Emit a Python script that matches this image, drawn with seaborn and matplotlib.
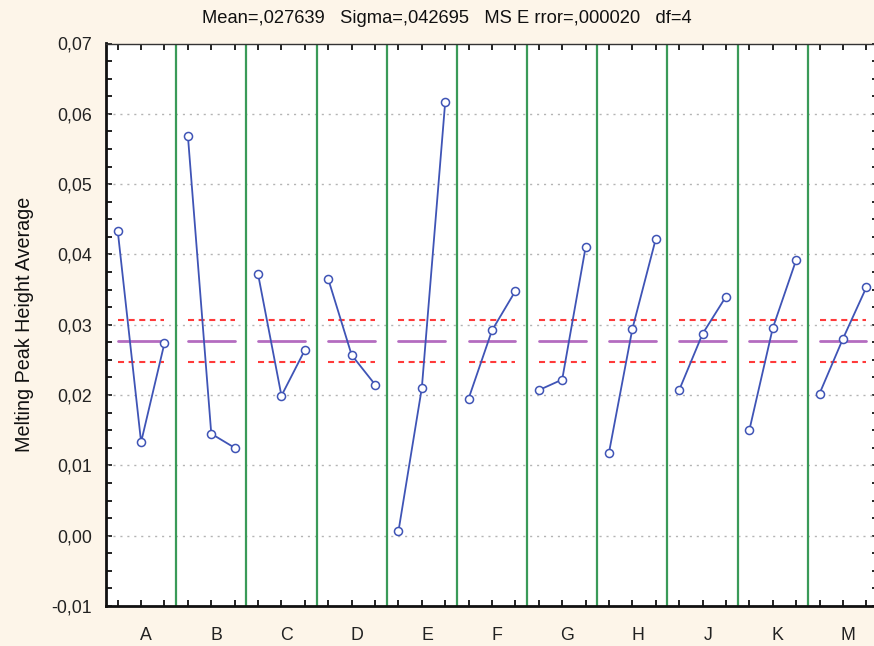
import numpy as np
import pandas as pd
import seaborn as sns
import matplotlib.pyplot as plt
from matplotlib.ticker import MultipleLocator, FuncFormatter

# Main-effect averages of melting peak height, three levels per factor
factors = ["A", "B", "C", "D", "E", "F", "G", "H", "J", "K", "M"]
level1 = [0.0434, 0.0569, 0.0372, 0.0365, 0.0006, 0.0195, 0.0207, 0.0118, 0.0207, 0.0150, 0.0202]
level2 = [0.0133, 0.0145, 0.0199, 0.0257, 0.0210, 0.0292, 0.0222, 0.0294, 0.0287, 0.0295, 0.0280]
level3 = [0.0274, 0.0125, 0.0264, 0.0215, 0.0617, 0.0348, 0.0410, 0.0422, 0.0340, 0.0392, 0.0353]

grand_mean = 0.027639
limit_offset = 0.003  # half-width of the dashed band around the grand mean
header = "Mean=,027639   Sigma=,042695   MS E rror=,000020   df=4"

rows = []
for i, f in enumerate(factors):
    for j, v in enumerate((level1[i], level2[i], level3[i])):
        rows.append({"factor": f, "pos": 3 * i + 0.5 + j, "value": v})
df = pd.DataFrame(rows)

sns.set_theme(style="white")
plt.rcParams["font.family"] = ["Liberation Sans", "DejaVu Sans"]

bg = "#fdf5e9"
fig = plt.figure(figsize=(8.74, 6.46), dpi=100, facecolor=bg)
ax = fig.add_axes([106 / 874, 40 / 646, 772 / 874, 562.5 / 646])
ax.set_facecolor("white")

n = len(factors)
ax.set_xlim(0, 3 * n)
ax.set_ylim(-0.01, 0.07)

# horizontal dotted grid at major y ticks
for yv in np.arange(-0.01, 0.0701, 0.01):
    ax.axhline(yv, color="#b4b4b4", lw=1.0, ls=(0, (1.5, 3.5)), zorder=1)

# green panel separators
for i in range(1, n):
    ax.axvline(3 * i, color="#3a9a58", lw=1.6, zorder=2)

# grand mean and limits for each panel
for i in range(n):
    x0, x1 = 3 * i + 0.5, 3 * i + 2.5
    ax.plot([x0, x1], [grand_mean, grand_mean], color="#b46cc0", lw=2.0, zorder=3)
    for yl in (grand_mean + limit_offset, grand_mean - limit_offset):
        ax.plot([x0, x1], [yl, yl], color="#ff3a3a", lw=1.5,
                ls=(0, (2.9, 2.2)), zorder=3)

sns.lineplot(data=df, x="pos", y="value", units="factor", estimator=None,
             color="#3f54b6", lw=1.3, marker="o", markersize=5.8,
             markerfacecolor="white", markeredgecolor="#3f54b6",
             markeredgewidth=1.1, ax=ax, zorder=4, legend=False)

# axes styling
ax.yaxis.set_major_locator(MultipleLocator(0.01))
ax.yaxis.set_minor_locator(MultipleLocator(0.0025))
ax.yaxis.set_major_formatter(FuncFormatter(
    lambda v, p: f"{v:.2f}".replace(".", ",").replace("-0,00", "0,00")))
ax.set_xticks([3 * i + 1.72 for i in range(n)], factors)
ax.set_xticks(df["pos"].values, minor=True)
ax.tick_params(axis="x", which="major", length=0, pad=15, labelsize=12.8, colors="#222222")
ax.tick_params(axis="x", which="minor", direction="in", length=4, width=1.3,
               top=True, bottom=True, color="#111111")
ax.tick_params(axis="y", which="both", direction="in", length=4, width=1.3,
               left=True, right=True, color="#111111")
ax.tick_params(axis="y", which="major", pad=10, labelsize=12.8, colors="#222222")
ax.set_xlabel("")
ax.set_ylabel("Melting Peak Height Average", fontsize=14.2, color="#111111")
ax.yaxis.set_label_coords(-0.093, 0.5)

for side in ("left", "bottom"):
    ax.spines[side].set_color("#111111")
    ax.spines[side].set_linewidth(2.0)
ax.spines["top"].set_color("#333333")
ax.spines["top"].set_linewidth(1.0)
ax.spines["right"].set_color("#333333")

fig.text(0.511, 0.9706, header, ha="center", va="center",
         fontsize=13.2, color="#111111")

fig.savefig("out.png", dpi=100, facecolor=bg)
